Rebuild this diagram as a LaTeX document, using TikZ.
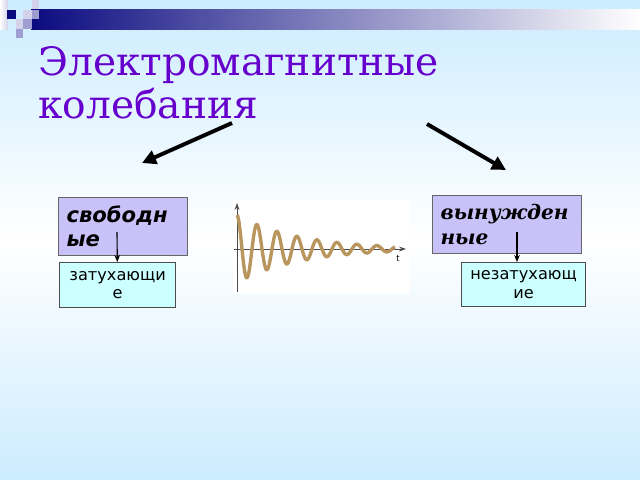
\documentclass[tikz,border=0pt]{standalone}
\usepackage{fontspec}
\setmainfont{DejaVu Sans}
\newfontfamily\titlefont{DejaVu Serif}
\usepackage{tikz}
\usetikzlibrary{arrows.meta,positioning}

\definecolor{titleviolet}{HTML}{6600CC}
\definecolor{navybar}{HTML}{0B0B80}
\definecolor{skyblue}{HTML}{CCECFF}
\definecolor{lilacbox}{HTML}{C8C2F8}
\definecolor{cyanbox}{HTML}{CCFFFF}
\definecolor{wavetan}{HTML}{B8965E}
\definecolor{sqlight}{HTML}{D2D2EA}
\definecolor{sqmid}{HTML}{9E9ED2}

\tikzset{
  kindbox/.style={draw=black!60, fill=lilacbox, line width=0.8pt, anchor=north west,
    align=left, inner sep=0.2cm, font=\fontsize{15}{17.5}\selectfont\bfseries\itshape},
  resultbox/.style={draw=black!70, fill=cyanbox, line width=0.8pt, anchor=north west,
    align=center, inner sep=0.1cm, font=\fontsize{11.5}{13}\selectfont},
  bigarrow/.style={line width=2.8pt, -{Triangle[length=10pt,width=10pt]}},
  smallarrow/.style={line width=0.8pt, -{Stealth[length=5pt,width=4pt]}},
  axis/.style={black!70, line width=0.7pt, -{Stealth[length=5pt,width=3.5pt]}},
}

\begin{document}
\begin{tikzpicture}[x=0.025cm, y=-0.025cm]
\useasboundingbox (0,0) rectangle (640,480);
% slide background
\shade[top color=skyblue, bottom color=skyblue, middle color=white] (0,0) rectangle (640,480);
% header bar and squares
\shade[left color=navybar, right color=white] (31,9) rectangle (640,29);
\shade[left color=white, right color=sqlight] (0,0) rectangle (8,29);
\fill[navybar] (7,10) rectangle (16,19);
\fill[sqlight] (23,10) rectangle (32,19);
\fill[sqmid] (32,10) rectangle (39,19);
\fill[sqlight] (32,0) rectangle (39,9);
\fill[sqlight] (16,19) rectangle (23,29);
\fill[sqmid] (23,19) rectangle (32,29);
\fill[sqmid] (16,29) rectangle (23,38);

% title
\node[titleviolet, font=\titlefont\fontsize{27.8}{34}\selectfont, anchor=base west, inner sep=0] (title) at (38,75) {Электромагнитные};
\node[titleviolet, font=\titlefont\fontsize{27.8}{34}\selectfont, anchor=base west, inner sep=0] (titlerest) at (38,118) {колебания};

% arrows from the title
\coordinate (splitleft) at (232,123);
\coordinate (splitright) at (427,124);
\coordinate (tofree) at (142,163);
\coordinate (toforced) at (506,170);
\draw[bigarrow] (splitleft) -- (tofree);
\draw[bigarrow] (splitright) -- (toforced);

% kinds of oscillations
\node[kindbox, minimum width=3.225cm, minimum height=1.425cm, text width=2.825cm] (free) at (58,197) {свободн\\ые};
\node[kindbox, font=\titlefont\fontsize{14.3}{17.5}\selectfont\bfseries\itshape, minimum width=3.725cm, minimum height=1.45cm, text width=3.325cm] (forced) at (432,195) {вынужден\\ные};
\node[resultbox, minimum width=2.9cm, minimum height=1.125cm, text width=2.7cm] (damped) at (59,262) {затухающи\\е};
\node[resultbox, minimum width=3.1cm, minimum height=1.1cm, text width=2.9cm] (undamped) at (461,262) {незатухающ\\ие};

% inner arrows
\coordinate (freeout) at (117,232);
\coordinate (forcedout) at (517,232);
\draw[smallarrow] (freeout) -- (damped);
\draw[smallarrow] (forcedout) -- (forcedout |- undamped.north);

% damped oscillation picture
\fill[white] (233,200) rectangle (410,294);
\coordinate (origin) at (237,249);
\draw[axis] (237,292) -- (237,203);
\draw[axis] (234,249) -- (406,249);
\draw[wavetan, line width=2.4pt, line join=round] plot[domain=237:395, samples=320, smooth]
  (\x, {249 - 34*exp(-(\x-237)/61)*cos(18*(\x-237))});
\node[font=\fontsize{6}{6}\selectfont, inner sep=0] (tlabel) at (398,259) {t};
\end{tikzpicture}
\end{document}
